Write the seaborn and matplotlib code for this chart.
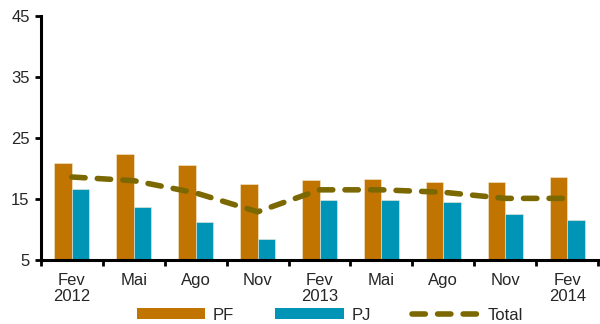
import matplotlib
matplotlib.use("Agg")
import matplotlib.pyplot as plt
import seaborn as sns
import pandas as pd
import numpy as np
from matplotlib.lines import Line2D
from matplotlib.patches import Patch

periods = ["Fev 2012", "Mai 2012", "Ago 2012", "Nov 2012", "Fev 2013",
           "Mai 2013", "Ago 2013", "Nov 2013", "Fev 2014"]
tick_labels = ["Fev\n2012", "Mai", "Ago", "Nov", "Fev\n2013", "Mai", "Ago", "Nov", "Fev\n2014"]
pf = [20.9, 22.3, 20.5, 17.5, 18.1, 18.2, 17.8, 17.8, 18.6]
pj = [16.6, 13.7, 11.3, 8.4, 14.8, 14.9, 14.5, 12.5, 11.6]
total = [18.6, 18.0, 16.0, 12.9, 16.5, 16.5, 16.1, 15.1, 15.1]

c_pf = "#C27400"
c_pj = "#0095B6"
c_tot = "#7B6800"

sns.set_style("white")
plt.rcParams["font.family"] = ["Liberation Sans", "DejaVu Sans"]

df = pd.DataFrame({
    "period": periods * 2,
    "value": pf + pj,
    "serie": ["PF"] * len(pf) + ["PJ"] * len(pj),
})

fig = plt.figure(figsize=(6, 3.24), dpi=100)
ax = fig.add_axes([0.068, 0.1975, 0.929, 0.7535])

sns.barplot(data=df, x="period", y="value", hue="serie", order=periods,
            palette={"PF": c_pf, "PJ": c_pj}, width=0.56, ax=ax, saturation=1,
            edgecolor="#f5ead8", linewidth=0.4, legend=False, errorbar=None)

xpos = np.arange(len(periods))
ax.plot(xpos, total, color=c_tot, lw=4.0, linestyle=(0, (2.4, 2.2)),
        dash_capstyle="round", solid_capstyle="round", zorder=5)

ax.set_ylim(5, 45)
ax.set_xlim(-0.5, len(periods) - 0.5)
ax.set_yticks([5, 15, 25, 35, 45])
ax.set_xticks(np.arange(len(periods) + 1) - 0.5)
ax.set_xticklabels([])
ax.set_xticks(xpos, minor=True)
ax.set_xticklabels(tick_labels, minor=True, linespacing=1.1)
ax.tick_params(axis="x", which="major", direction="out", length=4, width=2, color="black", bottom=True)
ax.tick_params(axis="x", which="minor", length=0, pad=9, labelsize=12)
ax.tick_params(axis="y", direction="out", length=4, width=2, color="black", left=True, labelsize=12, pad=4)
ax.set_xlabel("")
ax.set_ylabel("")
for s in ["top", "right"]:
    ax.spines[s].set_visible(False)
for s in ["left", "bottom"]:
    ax.spines[s].set_linewidth(2.2)
    ax.spines[s].set_color("black")

handles = [Patch(facecolor=c_pf, edgecolor="none"),
           Patch(facecolor=c_pj, edgecolor="none"),
           Line2D([0], [0], color=c_tot, lw=4.0, linestyle=(0, (2.4, 2.2)), dash_capstyle="round")]
fig.legend(handles, ["PF", "PJ", "Total"], loc="lower center", bbox_to_anchor=(0.55, -0.042),
           ncol=3, frameon=False, fontsize=12, handlelength=4.1, handleheight=0.6,
           columnspacing=2.5, handletextpad=0.45)

fig.savefig("out.png", dpi=100)
